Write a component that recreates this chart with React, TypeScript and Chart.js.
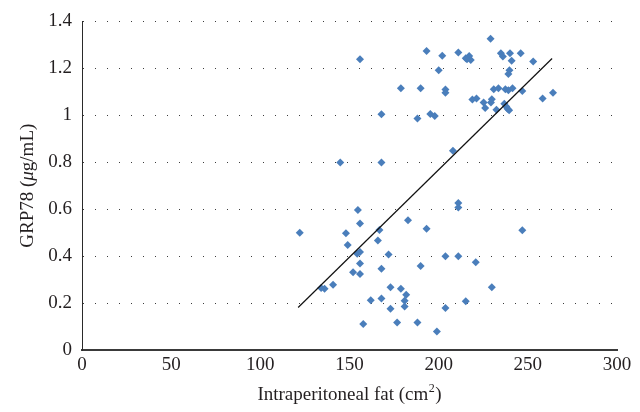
import React, { useEffect, useRef } from 'react';
import { Chart, registerables } from 'chart.js';

Chart.register(...registerables);

const FONT = "'Liberation Serif', 'DejaVu Serif', serif";
const TEXT_COLOR = '#231f20';

// Intraperitoneal fat (cm²)
const fatX = [
  122.1, 155.9, 144.8, 167.9, 167.9, 154.7, 155.9, 148.0, 149.0, 166.8,
  165.9, 154.3, 155.9, 155.9, 152.0, 155.9, 167.9, 171.9, 134.1, 136.0,
  140.8, 161.9, 167.9, 173.0, 173.0, 157.7, 176.7, 178.8, 181.8, 180.9,
  180.9, 188.1, 199.0, 182.8, 189.9, 193.2, 203.8, 203.8, 211.0, 211.0,
  211.0, 215.2, 220.8, 229.8, 246.9, 208.0, 188.1, 195.3, 197.8, 178.8,
  189.9, 193.2, 202.0, 200.0, 203.8, 203.8, 211.0, 215.2, 217.1, 218.0,
  215.9, 218.9, 221.2, 225.2, 226.1, 229.3, 229.8, 229.1, 234.9, 236.0,
  240.0, 246.0, 240.9, 239.7, 239.1, 253.0, 230.9, 233.5, 237.4, 239.1,
  241.4, 246.9, 232.4, 236.8, 238.6, 239.5, 258.3, 264.1, 237.9,
];

// GRP78 (µg/mL)
const grp78Y = [
  0.500, 1.239, 0.799, 1.004, 0.799, 0.596, 0.539, 0.497, 0.447, 0.511,
  0.467, 0.410, 0.417, 0.369, 0.331, 0.324, 0.346, 0.407, 0.264, 0.261,
  0.278, 0.212, 0.219, 0.267, 0.176, 0.111, 0.117, 0.261, 0.235, 0.210,
  0.185, 0.117, 0.079, 0.553, 0.358, 0.517, 0.399, 0.179, 0.399, 0.626,
  0.607, 0.208, 0.374, 0.267, 0.510, 0.849, 0.986, 1.006, 0.997, 1.115,
  1.115, 1.274, 1.254, 1.192, 1.110, 1.096, 1.267, 1.243, 1.253, 1.236,
  1.239, 1.067, 1.072, 1.054, 1.031, 1.054, 1.068, 1.326, 1.264, 1.250,
  1.264, 1.264, 1.232, 1.192, 1.176, 1.229, 1.111, 1.115, 1.111, 1.107,
  1.115, 1.104, 1.024, 1.049, 1.028, 1.021, 1.072, 1.096, 1.037,
];

// Linear trend line
const trendSlope = 0.00745;
const trendIntercept = -0.722;
const trendXRange = [121.2, 263.6];

const xTicks = [0, 50, 100, 150, 200, 250, 300];
const yTicks = [0, 0.2, 0.4, 0.6, 0.8, 1, 1.2, 1.4];

const xTitleMain = 'Intraperitoneal fat (cm';
const xTitleSup = '2';
const xTitleEnd = ')';
const yTitleParts = [
  { text: 'GRP78 (', italic: false },
  { text: 'μ', italic: true },
  { text: 'g/mL)', italic: false },
];

const titlePlugin = {
  id: 'customAxisTitles',
  afterDraw(chart: any) {
    const { ctx, chartArea } = chart;
    ctx.save();
    ctx.fillStyle = TEXT_COLOR;
    ctx.textBaseline = 'alphabetic';
    ctx.textAlign = 'left';

    // X title
    const main = `19px ${FONT}`;
    const sup = `12px ${FONT}`;
    ctx.font = main;
    const w1 = ctx.measureText(xTitleMain).width;
    const w3 = ctx.measureText(xTitleEnd).width;
    ctx.font = sup;
    const w2 = ctx.measureText(xTitleSup).width;
    const total = w1 + w2 + w3 + 1;
    const cx = (chartArea.left + chartArea.right) / 2;
    let x = cx - total / 2;
    const baseY = 400;
    ctx.font = main;
    ctx.fillText(xTitleMain, x, baseY);
    x += w1 + 0.5;
    ctx.font = sup;
    ctx.fillText(xTitleSup, x, baseY - 8);
    x += w2 + 0.5;
    ctx.font = main;
    ctx.fillText(xTitleEnd, x, baseY);

    // Y title (rotated)
    const cy = (chartArea.top + chartArea.bottom) / 2;
    const widths: number[] = [];
    let tw = 0;
    for (const p of yTitleParts) {
      ctx.font = `${p.italic ? 'italic ' : ''}19px ${FONT}`;
      const w = ctx.measureText(p.text).width;
      widths.push(w);
      tw += w;
    }
    ctx.translate(33, cy);
    ctx.rotate(-Math.PI / 2);
    let px = -tw / 2;
    yTitleParts.forEach((p, i) => {
      ctx.font = `${p.italic ? 'italic ' : ''}19px ${FONT}`;
      ctx.fillText(p.text, px, 0);
      px += widths[i];
    });
    ctx.restore();
  },
};

export default function App() {
  const canvasRef = useRef<HTMLCanvasElement | null>(null);

  useEffect(() => {
    if (!canvasRef.current) return;
    const points = fatX.map((x, i) => ({ x, y: grp78Y[i] }));
    const trend = trendXRange.map((x) => ({ x, y: trendSlope * x + trendIntercept }));

    const chart = new Chart(canvasRef.current, {
      type: 'scatter',
      data: {
        datasets: [
          {
            label: 'GRP78',
            data: points,
            pointStyle: 'rectRot',
            pointRadius: 4,
            backgroundColor: '#4a7ebb',
            borderColor: '#4a7ebb',
            borderWidth: 0,
            order: 2,
          },
          {
            type: 'line',
            label: 'Trend',
            data: trend,
            borderColor: '#111111',
            borderWidth: 1.2,
            pointRadius: 0,
            fill: false,
            showLine: true,
            order: 1,
          } as any,
        ],
      },
      options: {
        responsive: false,
        animation: false,
        maintainAspectRatio: false,
        layout: { padding: { top: 17, right: 23, left: 0, bottom: 0 } },
        plugins: {
          legend: { display: false },
          tooltip: { enabled: false },
          title: { display: false },
        },
        scales: {
          x: {
            type: 'linear',
            min: 0,
            max: 300,
            afterBuildTicks: (scale: any) => {
              scale.ticks = xTicks.map((v) => ({ value: v }));
            },
            ticks: {
              color: TEXT_COLOR,
              font: { family: FONT, size: 19 },
              padding: 4,
              maxRotation: 0,
            },
            grid: { display: false, drawTicks: false },
            border: { display: true, color: '#3a3a3a', width: 2 },
            afterFit: (scale: any) => {
              scale.height = 62;
            },
          },
          y: {
            type: 'linear',
            min: 0,
            max: 1.4,
            afterBuildTicks: (scale: any) => {
              scale.ticks = yTicks.map((v) => ({ value: v }));
            },
            ticks: {
              color: TEXT_COLOR,
              font: { family: FONT, size: 19 },
              padding: 10,
              callback: (v: any) => String(Number(Number(v).toFixed(1))),
            },
            grid: {
              display: true,
              drawTicks: false,
              color: '#3c3c3c',
              lineWidth: 1,
            },
            border: { display: true, color: '#2a2a2a', width: 1, dash: [1, 11] },
            afterFit: (scale: any) => {
              scale.width = 82;
            },
          },
        },
      },
      plugins: [titlePlugin],
    });

    return () => {
      chart.destroy();
    };
  }, []);

  return (
    <div style={{ position: 'fixed', left: 0, top: 0, width: 640, height: 412, background: '#fff' }}>
      <canvas ref={canvasRef} width={640} height={412} style={{ width: 640, height: 412 }} />
    </div>
  );
}
